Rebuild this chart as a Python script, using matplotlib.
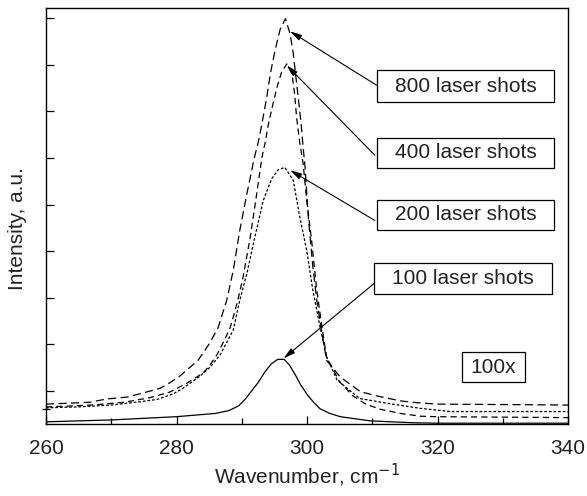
import matplotlib
matplotlib.use("Agg")
import matplotlib.pyplot as plt
import matplotlib.patches as patches
from matplotlib.ticker import MultipleLocator, FixedLocator, NullFormatter

plt.rcParams['font.family'] = ['Liberation Sans', 'DejaVu Sans']

# спектры (волновое число, см-1 / интенсивность, отн. ед.)
x800 = [260, 263.7, 266.7, 269.3, 272.4, 274.9, 277.5, 279.0, 280.5, 283.3, 285.1, 286.4,
        287.7, 288.7, 289.7, 290.8, 291.9, 292.5, 293.1, 293.8, 294.4, 295.1, 295.9, 296.7,
        297.4, 297.9, 298.3, 298.7, 299.1, 299.4, 299.7, 300.2, 300.9, 301.5, 302.3, 303.0,
        305.1, 308.2, 311.2, 314.3, 316.8, 319.9, 330, 340]
y800 = [0.72, 0.74, 0.76, 0.83, 0.87, 0.96, 1.06, 1.18, 1.32, 1.66, 2.03, 2.37,
        2.95, 3.59, 4.45, 5.24, 5.99, 6.32, 6.74, 7.28, 7.82, 8.31, 8.77, 8.99,
        8.67, 8.24, 7.74, 7.24, 6.74, 6.24, 5.81, 4.73, 3.66, 2.95, 2.24, 1.66,
        1.30, 0.985, 0.88, 0.79, 0.75, 0.72, 0.71, 0.70]

x400 = [260, 264, 268, 272, 276, 279, 281.6, 284.1, 285.1, 286.2, 287.2, 288.2, 288.7,
        289.4, 290.2, 291.3, 292.3, 293.1, 293.6, 294.1, 294.8, 295.4, 296.1, 296.9,
        297.7, 298.1, 298.4, 298.9, 299.4, 299.95, 300.7, 301.5, 302.3, 303.0, 305,
        307, 309, 311.2, 314.3, 317.4, 319.9, 330, 340]
y400 = [0.66, 0.68, 0.71, 0.76, 0.86, 0.98, 1.17, 1.39, 1.55, 1.78, 2.05, 2.35, 2.59,
        2.95, 3.44, 4.30, 5.24, 6.02, 6.34, 6.74, 7.17, 7.52, 7.84, 8.02,
        7.81, 7.38, 6.88, 6.32, 5.89, 5.10, 4.24, 3.16, 2.37, 1.73, 1.20,
        0.90, 0.72, 0.61, 0.52, 0.46, 0.45, 0.44, 0.43]

x200 = [260, 265, 270, 274.4, 277, 279.5, 281.0, 283.6, 285.2, 286.7, 288.7, 289.7, 290.8,
        292.0, 293.3, 294.6, 295.6, 296.6, 297.9, 298.9, 299.95, 300.9, 302.0, 303.0,
        304.6, 307.0, 308.1, 312.2, 317.3, 322, 330, 340]
y200 = [0.64, 0.66, 0.70, 0.77, 0.82, 0.94, 1.06, 1.32, 1.52, 1.78, 2.31, 2.95, 3.53,
        4.30, 5.09, 5.56, 5.75, 5.80, 5.52, 4.73, 4.02, 3.16, 2.37, 1.73,
        1.24, 0.96, 0.84, 0.74, 0.63, 0.56, 0.56, 0.56]

x100 = [260, 270, 280, 286, 288, 289.5, 290.5, 291.5, 292.5, 293.5, 294.5, 295.5, 296.5,
        297.3, 298.2, 299.0, 300.0, 301.0, 302.0, 303.5, 305.1, 309.7, 316.2, 320, 330, 340]
y100 = [0.34, 0.38, 0.45, 0.52, 0.58, 0.68, 0.82, 1.00, 1.18, 1.40, 1.58, 1.68, 1.68,
        1.56, 1.35, 1.14, 0.93, 0.76, 0.62, 0.52, 0.45, 0.36, 0.32, 0.31, 0.31, 0.31]

# подписи: текст, острие стрелки, начало стрелки, рамка (x0, x1, y0, y1)
labels = ["800 laser shots", "400 laser shots", "200 laser shots", "100 laser shots"]
tips = [(297.4, 8.72), (296.9, 7.99), (297.4, 5.74), (296.4, 1.70)]
tails = [(310.7, 7.56), (310.4, 6.06), (310.4, 4.66), (310.3, 3.31)]
boxes = [(310.7, 337.9, 7.20, 7.88), (310.7, 337.9, 5.78, 6.44),
         (310.7, 337.9, 4.45, 5.11), (310.3, 337.5, 3.08, 3.74)]
scale_label = "100x"
scale_box = (323.8, 333.4, 1.19, 1.83)

fig = plt.figure(figsize=(5.87, 4.96), dpi=100)
ax = fig.add_axes([46 / 587, 1 - 424 / 496, 522 / 587, 416 / 496])

ax.plot(x800, y800, color="black", lw=0.9, dashes=(6.5, 3.5))
ax.plot(x400, y400, color="black", lw=0.9, dashes=(5, 3.2))
ax.plot(x200, y200, color="black", lw=0.9, dashes=(2.2, 1.5))
ax.plot(x100, y100, color="black", lw=0.9)

for text, tip, tail, (bx0, bx1, by0, by1) in zip(labels, tips, tails, boxes):
    ax.add_patch(patches.Rectangle((bx0, by0), bx1 - bx0, by1 - by0, fill=False,
                                   edgecolor="black", lw=0.9, zorder=3))
    ax.text((bx0 + bx1) / 2, (by0 + by1) / 2, text, ha="center", va="center",
            fontsize=15, color="#222222", zorder=4)
    ax.annotate("", xy=tip, xytext=tail,
                arrowprops=dict(arrowstyle="-|>,head_length=0.7,head_width=0.18",
                                color="black", lw=0.8, shrinkA=0, shrinkB=0))

bx0, bx1, by0, by1 = scale_box
ax.add_patch(patches.Rectangle((bx0, by0), bx1 - bx0, by1 - by0, fill=False,
                               edgecolor="black", lw=0.9, zorder=3))
ax.text((bx0 + bx1) / 2, (by0 + by1) / 2, scale_label, ha="center", va="center",
        fontsize=15, color="#222222")

ax.set_xlim(260, 340)
ax.set_ylim(0.293, 9.22)
ax.xaxis.set_major_locator(MultipleLocator(20))
ax.xaxis.set_minor_locator(MultipleLocator(10))
ax.yaxis.set_major_locator(MultipleLocator(1))
ax.yaxis.set_minor_locator(FixedLocator([0.614]))
ax.yaxis.set_major_formatter(NullFormatter())
ax.tick_params(axis="x", which="major", direction="in", length=6, width=0.9,
               labelsize=15, pad=11, labelcolor="#222222")
ax.tick_params(axis="x", which="minor", direction="in", length=4, width=0.9)
ax.tick_params(axis="y", which="major", direction="in", length=6, width=0.9)
ax.tick_params(axis="y", which="minor", direction="inout", length=6, width=0.9)
for s in ax.spines.values():
    s.set_linewidth(1.0)

ax.set_xlabel("Wavenumber, cm$^{-1}$", fontsize=15, color="#222222")
ax.xaxis.set_label_coords(0.5, -0.09)
ax.set_ylabel("Intensity, a.u.", fontsize=15, color="#222222")
ax.yaxis.set_label_coords(-0.036, 0.47)

plt.savefig("out.png", dpi=100)
